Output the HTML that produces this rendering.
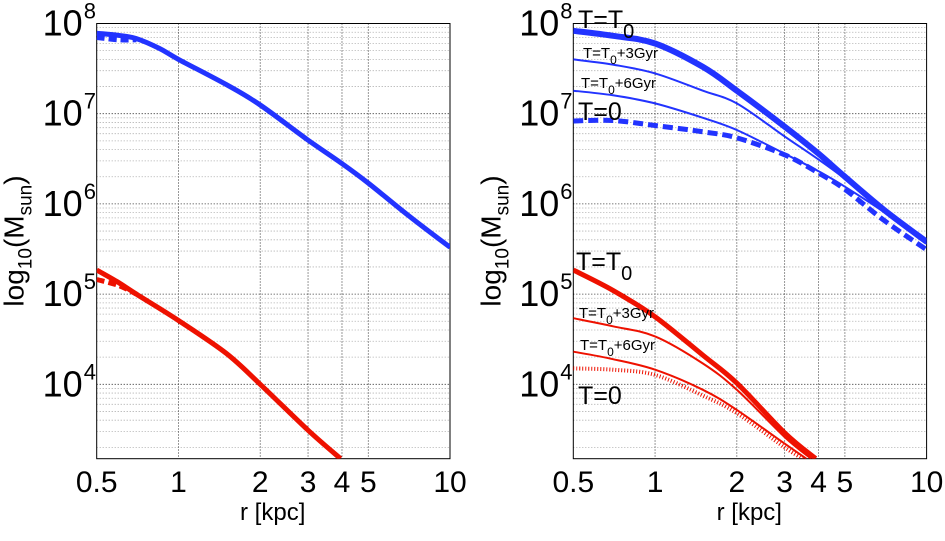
<!DOCTYPE html>
<html><head><meta charset="utf-8"><style>
body{margin:0;background:#fff;}
svg{display:block;font-family:"Liberation Sans",Arial,sans-serif;}
</style></head><body>
<svg id="chart" width="945" height="541" viewBox="0 0 945 541" xmlns="http://www.w3.org/2000/svg"></svg>
<script>
// ---- data ----
const xTicks = [0.5, 1, 2, 3, 4, 5, 10];
const xTickLabels = ["0.5", "1", "2", "3", "4", "5", "10"];
const yDecades = [4, 5, 6, 7, 8];
// left panel
const leftR = [0.5, 0.6, 0.7, 0.85, 1, 1.5, 2, 3, 4, 5, 7, 10];
const leftBlueSolid = [7.8e7, 7.4e7, 6.8e7, 5.3e7, 4.0e7, 2.1e7, 1.25e7, 5.1e6, 2.8e6, 1.7e6, 7.5e5, 3.3e5];
const leftBlueDashR = [0.5, 0.6, 0.7];
const leftBlueDash = [7.0e7, 6.6e7, 6.6e7];
const leftRedR = [0.5, 0.6, 0.7, 1, 1.5, 2, 3, 3.95];
const leftRedSolid = [1.85e5, 1.35e5, 1.0e5, 5.1e4, 2.2e4, 1.0e4, 3.1e3, 1.5e3];
const leftRedDashR = [0.5, 0.6, 0.7];
const leftRedDash = [1.45e5, 1.25e5, 1.0e5];
// right panel
const rightR = [0.5, 0.7, 1, 1.5, 2, 3, 4, 5, 7, 10];
const blueT0 = [8.3e7, 7.3e7, 6.0e7, 3.3e7, 1.8e7, 7.2e6, 3.6e6, 2.0e6, 8.5e5, 3.8e5];
const blue3 = [4.0e7, 3.5e7, 2.8e7, 1.8e7, 1.3e7, 5.6e6, 3.1e6, 1.9e6, 8.5e5, 3.6e5];
const blue6 = [1.8e7, 1.6e7, 1.3e7, 9.0e6, 6.6e6, 3.6e6, 2.3e6, 1.55e6, 8.0e5, 3.6e5];
const blueT00 = [8.3e6, 8.4e6, 7.4e6, 6.3e6, 5.4e6, 3.5e6, 2.2e6, 1.45e6, 6.5e5, 3.1e5];
const redR = [0.5, 0.7, 1, 1.5, 2, 3, 3.9];
const redT0 = [1.85e5, 1.1e5, 5.6e4, 2.1e4, 1.03e4, 2.9e3, 1.5e3];
const red3R = [0.5, 0.7, 1, 1.5, 2, 3, 3.75];
const red3 = [5.4e4, 4.4e4, 3.4e4, 1.7e4, 8.7e3, 2.6e3, 1.5e3];
const red6R = [0.5, 0.7, 1, 1.5, 2, 3, 3.6];
const red6 = [2.3e4, 1.9e4, 1.45e4, 8.7e3, 5.2e3, 2.2e3, 1.5e3];
const red0R = [0.5, 0.7, 1, 1.5, 2, 3, 3.5];
const red0 = [1.5e4, 1.45e4, 1.27e4, 7.5e3, 4.8e3, 2.0e3, 1.5e3];

const NS = "http://www.w3.org/2000/svg";
const svg = document.getElementById("chart");
const yTop = 23.5, yBot = 458.7, decPx = 90.2, xPxDec = 271.6;
function yScale(v){ return yTop + (8 - Math.log10(v)) * decPx; }
function mk(tag, attrs, parent){
  const e = document.createElementNS(NS, tag);
  for (const k in attrs) e.setAttribute(k, attrs[k]);
  (parent || svg).appendChild(e);
  return e;
}
function panel(x0, name){
  const g = mk("g", {});
  
  
  const x1 = x0 + 353.3;
  const xs = r => x0 + Math.log10(r / 0.5) * xPxDec;
  for (let d = 3; d <= 7; d++) for (let m = 2; m <= 9; m++) {
    const v = m * Math.pow(10, d); const y = yScale(v);
    if (y < yTop || y > yBot) continue;
    const l = mk("line", {x1: x0, x2: x1, y1: y, y2: y, stroke: "#999", "stroke-width": 0.8, "stroke-dasharray": "1 2"}, g);
    
    
  }
  yDecades.forEach(d => {
    const y = yScale(Math.pow(10, d));
    const l = mk("line", {x1: x0, x2: x1, y1: y, y2: y, stroke: "#000", "stroke-width": 0.8, "stroke-dasharray": "1 2"}, g);
    
    
    const t = mk("text", {x: x0 - 14, y: y + 12, "font-size": 36, "text-anchor": "end"}, g);
    t.textContent = "10";
    
    
    const s = mk("text", {x: x0 - 13, y: y - 5, "font-size": 22}, g);
    s.textContent = String(d);
    
    
  });
  xTicks.forEach((r, i) => {
    const x = xs(r);
    if (i > 0 && i < xTicks.length - 1) {
      const l = mk("line", {x1: x, x2: x, y1: yTop, y2: yBot, stroke: "#000", "stroke-width": 0.8, "stroke-dasharray": "1 2"}, g);
      
      
    }
    const t = mk("text", {x: x, y: 492, "font-size": 30, "text-anchor": "middle"}, g);
    t.textContent = xTickLabels[i];
    
    
  });
  const fr = mk("rect", {x: x0, y: yTop, width: 353.3, height: yBot - yTop, fill: "none", stroke: "#000", "stroke-width": 1}, g);
  
  
  const xl = mk("text", {x: x0 + 176, y: 520, "font-size": 24, "text-anchor": "middle"}, g);
  xl.textContent = "r [kpc]";
  
  
  const yl = mk("text", {transform: "translate(" + (x0 - 73) + ",241) rotate(-90)", "font-size": 28, "text-anchor": "middle"}, g);
  yl.innerHTML = 'log<tspan font-size="19" dy="8">10</tspan><tspan dy="-8">(M</tspan><tspan font-size="19" dy="8">sun</tspan><tspan dy="-8">)</tspan>';
  
  
  const clipId = "clip" + Math.round(x0);
  const cp = mk("clipPath", {id: clipId}, g);
  mk("rect", {x: x0, y: yTop, width: 353.3, height: yBot - yTop}, cp);
  const lg = mk("g", {"clip-path": "url(#" + clipId + ")"}, g);
  return {xs, lg, g};
}
function smoothPath(pts){
  let d = "M" + pts[0][0].toFixed(1) + "," + pts[0][1].toFixed(1);
  for (let i = 0; i < pts.length - 1; i++) {
    const p0 = pts[Math.max(0, i - 1)], p1 = pts[i], p2 = pts[i + 1], p3 = pts[Math.min(pts.length - 1, i + 2)];
    const c1x = p1[0] + (p2[0] - p0[0]) / 6, c1y = p1[1] + (p2[1] - p0[1]) / 6;
    const c2x = p2[0] - (p3[0] - p1[0]) / 6, c2y = p2[1] - (p3[1] - p1[1]) / 6;
    d += "C" + c1x.toFixed(1) + "," + c1y.toFixed(1) + " " + c2x.toFixed(1) + "," + c2y.toFixed(1) + " " + p2[0].toFixed(1) + "," + p2[1].toFixed(1);
  }
  return d;
}
function series(p, rs, vs, color, w, dash, name){
  const pts = rs.map((r, i) => [p.xs(r), yScale(vs[i])]);
  const a = {d: smoothPath(pts), fill: "none", stroke: color, "stroke-width": w, "stroke-linejoin": "round"};
  if (dash) a["stroke-dasharray"] = dash;
  const path = mk("path", a, p.lg);
  
  
}
function label(p, x, y, main, sub, rest, fs, name){
  const t = mk("text", {x: x, y: y, "font-size": fs}, p.g);
  t.innerHTML = main + (sub ? '<tspan font-size="' + (fs * 0.8) + '" dy="' + (fs * 0.4) + '">' + sub + '</tspan><tspan dy="' + (-fs * 0.4) + '">' + rest + '</tspan>' : "");
  
  
}
const BLUE = "#2233ff", RED = "#ee1100";
const L = panel(96.7, "left-panel");
series(L, leftBlueDashR, leftBlueDash, BLUE, 5, "8 4", "left-blue-dashed");
series(L, leftR, leftBlueSolid, BLUE, 5, null, "left-blue-solid");
series(L, leftRedDashR, leftRedDash, RED, 5, "8 4", "left-red-dashed");
series(L, leftRedR, leftRedSolid, RED, 5, null, "left-red-solid");

const R = panel(573.3, "right-panel");
series(R, rightR, blueT00, BLUE, 5, "10 5", "blue-t0-initial-dashed");
series(R, rightR, blue6, BLUE, 2, null, "blue-t0-plus-6gyr");
series(R, rightR, blue3, BLUE, 2, null, "blue-t0-plus-3gyr");
series(R, rightR, blueT0, BLUE, 6, null, "blue-t-t0");
series(R, red0R, red0, RED, 4, "1 2", "red-t0-initial-dotted");
series(R, red6R, red6, RED, 2, null, "red-t0-plus-6gyr");
series(R, red3R, red3, RED, 2, null, "red-t0-plus-3gyr");
series(R, redR, redT0, RED, 5, null, "red-t-t0");

label(R, 578, 28, "T=T", "0", "", 25, "label-blue-t-t0");
label(R, 583, 58, "T=T", "0", "+3Gyr", 15, "label-blue-3gyr");
label(R, 581, 88, "T=T", "0", "+6Gyr", 15, "label-blue-6gyr");
label(R, 578, 120, "T=0", "", "", 25, "label-blue-t0");
label(R, 576, 270, "T=T", "0", "", 25, "label-red-t-t0");
label(R, 579, 318, "T=T", "0", "+3Gyr", 15, "label-red-3gyr");
label(R, 580, 350, "T=T", "0", "+6Gyr", 15, "label-red-6gyr");
label(R, 578, 404, "T=0", "", "", 25, "label-red-t0");
</script>
</body></html>
